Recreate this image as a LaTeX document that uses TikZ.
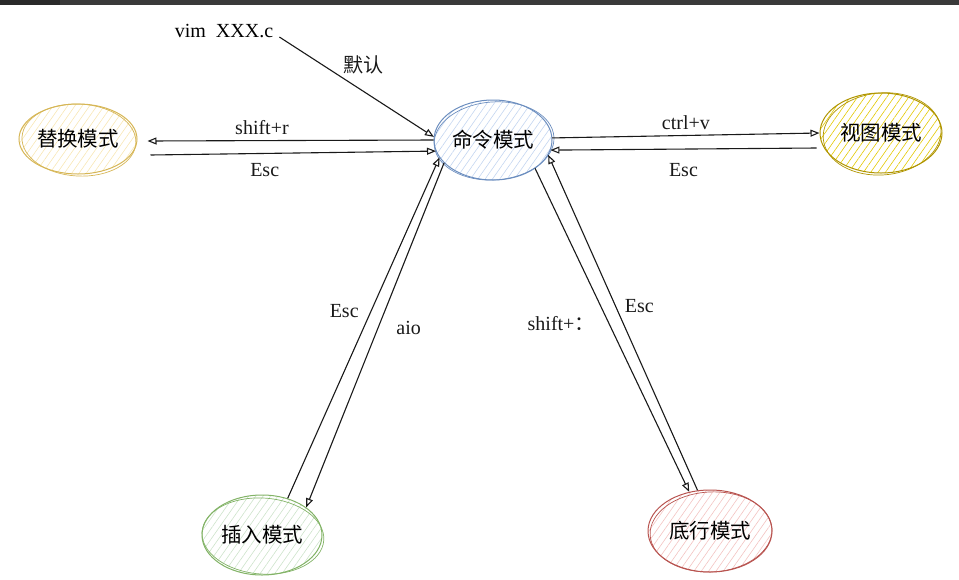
\documentclass[tikz,border=0pt]{standalone}
\usepackage{fontspec}
\setmainfont{Liberation Serif}
\newfontfamily\cjk{Noto Sans CJK SC}
\usetikzlibrary{arrows.meta, shapes.geometric, patterns.meta}
\definecolor{mBar}{HTML}{3A3A3A}
\definecolor{mBarDark}{HTML}{2A2A2A}
\definecolor{mBlueLine}{HTML}{6C8EBF}
\definecolor{mBlueFill}{HTML}{C3D5F0}
\definecolor{mOrangeLine}{HTML}{D6B656}
\definecolor{mOrangeFill}{HTML}{F8E7B4}
\definecolor{mYellowLine}{HTML}{B09500}
\definecolor{mYellowFill}{HTML}{E3C800}
\definecolor{mGreenLine}{HTML}{82B366}
\definecolor{mGreenFill}{HTML}{CDE3CA}
\definecolor{mRedLine}{HTML}{B85450}
\definecolor{mRedFill}{HTML}{F3C3C1}

\begin{document}
\begin{tikzpicture}[x=1pt, y=-1pt,
    mode/.style={ellipse, inner sep=0pt, minimum width=118pt, minimum height=80pt,
      line width=1pt, font=\cjk\fontsize{20.5}{24}\selectfont},
    hatch/.style={pattern={Lines[angle=55, distance=6pt, line width=0.6pt]}, pattern color=#1},
    lbl/.style={font=\fontsize{20}{24}\selectfont, inner sep=2pt},
    arr/.style={-{Triangle[open, length=9pt, width=7pt]}, line width=1.1pt, black!90}]
  \useasboundingbox (0,0) rectangle (959,579);
  \fill[mBar] (0,0) rectangle (959,5);
  \fill[mBarDark] (0,0) rectangle (60,5);

  \node[lbl] (vim) at (224,31) {vim\ \ XXX.c};
  \node[mode, draw=mBlueLine, hatch=mBlueFill] (cmd) at (493,140) {命令模式};
  \node[mode, draw=mOrangeLine, hatch=mOrangeFill, minimum height=70pt] (rep) at (78,139) {替换模式};
  \node[mode, draw=mYellowLine, hatch=mYellowFill, minimum width=122pt] (view) at (881,133) {视图模式};
  \node[mode, draw=mGreenLine, hatch=mGreenFill, minimum width=120pt] (ins) at (262,535) {插入模式};
  \node[mode, draw=mRedLine, hatch=mRedFill, minimum width=124pt, minimum height=82pt] (bot) at (710,531) {底行模式};

  % second stroke, sketch look
  \foreach \n/\c/\rx/\ry/\a in {cmd/mBlueLine/60/39/4, rep/mOrangeLine/57/36/-3,
      view/mYellowLine/59/41/5, ins/mGreenLine/61/38/-4, bot/mRedLine/61/40/3}
    \draw[\c, line width=0.7pt, rotate around={\a:(\n.center)}]
      ([shift={(1,1)}]\n.center) ellipse [x radius=\rx, y radius=\ry];

  \draw[arr] ([shift={(4,6)}]vim.east) -- node[lbl, pos=0.4, above right=0pt] (dflt) {\cjk 默认} (cmd.177);
  \draw[arr] (cmd.west) -- node[lbl, pos=0.6, above=3pt] (shr) {shift+r} ([shift={(10,2)}]rep.east);
  \draw[arr] ([shift={(13,16)}]rep.east) -- node[lbl, pos=0.4, below=7pt] (escr) {Esc} (cmd.191);
  \draw[arr] (cmd.2) -- node[lbl, above=3pt] (ctv) {ctrl+v} (view.west);
  \draw[arr] ([shift={(-3,15)}]view.west) -- node[lbl, below=12pt] (escv) {Esc} (cmd.-10);
  \draw[arr] (ins.55) -- node[lbl, pos=0.55, left=10pt] (esci) {Esc} (cmd.198);
  \draw[arr] (cmd.205) -- node[lbl, pos=0.48, right=16pt] (aio) {aio} (ins.32);
  \draw[arr] (cmd.-34) -- node[lbl, pos=0.48, left=12pt] (shc) {shift+{\cjk ：}} (bot.118);
  \draw[arr] (bot.107) -- node[lbl, pos=0.55, right=7pt] (escb) {Esc} (cmd.-15);
\end{tikzpicture}
\end{document}
